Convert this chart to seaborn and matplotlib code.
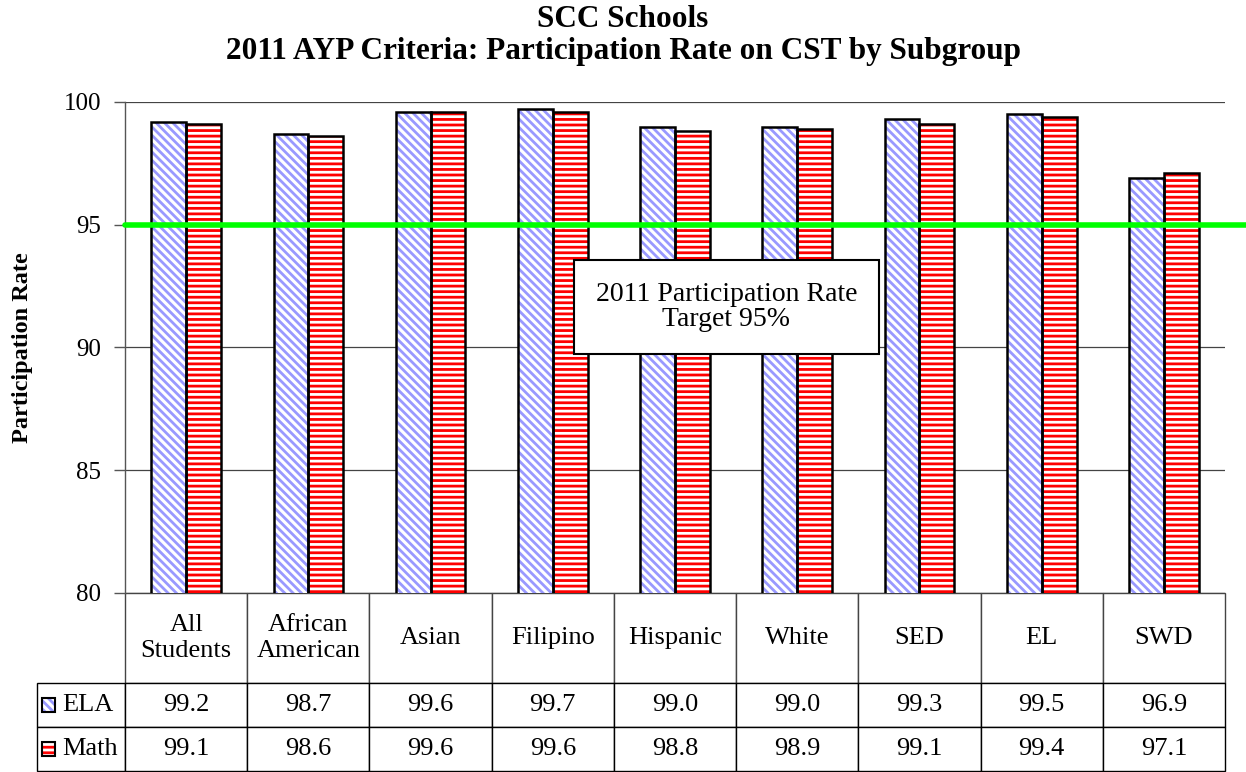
import matplotlib
matplotlib.use("Agg")
import matplotlib.pyplot as plt
import seaborn as sns
import pandas as pd
from matplotlib.patches import Rectangle

# ── Data ──────────────────────────────────────────────────────────────────────
subgroups   = ["All Students", "African American", "Asian", "Filipino", "Hispanic",
               "White", "SED", "EL", "SWD"]
col_labels  = ["All\nStudents", "African\nAmerican", "Asian", "Filipino", "Hispanic",
               "White", "SED", "EL", "SWD"]
tests       = ["ELA", "Math"]
ela_rate    = [99.2, 98.7, 99.6, 99.7, 99.0, 99.0, 99.3, 99.5, 96.9]
math_rate   = [99.1, 98.6, 99.6, 99.6, 98.8, 98.9, 99.1, 99.4, 97.1]
target      = 95
y_ticks     = [80, 85, 90, 95, 100]

# ── Style ─────────────────────────────────────────────────────────────────────
sns.set_style("white")
plt.rcParams["font.family"] = ["Liberation Serif", "DejaVu Serif"]
plt.rcParams["hatch.linewidth"] = 2.0
for k in ["text.color", "axes.labelcolor", "xtick.color", "ytick.color"]:
    plt.rcParams[k] = "black"

HATCH = {"ELA": ("\\\\\\\\", "#9999FF"), "Math": ("---", "#FF0000")}

df = pd.DataFrame({
    "Subgroup": subgroups * 2,
    "Test":     ["ELA"] * len(subgroups) + ["Math"] * len(subgroups),
    "Rate":     ela_rate + math_rate,
})

W, H = 1246, 772
AX_L, AX_R, AX_T, AX_B = 125, 1225, 102, 593
AW, AH = AX_R - AX_L, AX_B - AX_T

fig = plt.figure(figsize=(W / 100, H / 100), dpi=100)
ax = fig.add_axes([AX_L / W, 1 - AX_B / H, AW / W, AH / H])

sns.barplot(data=df, x="Subgroup", y="Rate", hue="Test", order=subgroups,
            hue_order=tests, width=0.57, ax=ax, legend=False, errorbar=None,
            palette=["white", "white"], saturation=1)

# hatch fill, then a black outline on top (hatch colour follows edgecolor)
n = len(subgroups)
for i, p in enumerate(list(ax.patches)):
    hatch, col = HATCH[tests[i // n]]
    p.set_facecolor("white")
    p.set_edgecolor(col)
    p.set_hatch(hatch)
    p.set_linewidth(0)
    ax.add_patch(Rectangle((p.get_x(), p.get_y()), p.get_width(), p.get_height(),
                           fill=False, edgecolor="black", linewidth=1.8, zorder=3))

ax.set_xlim(-0.5, n - 0.5)
ax.set_ylim(80, 100)
ax.set_yticks(y_ticks)
ax.tick_params(axis="y", labelsize=18, length=8, width=1, color="#555555",
               direction="out", left=True, pad=9)
ax.set_xticks([])
ax.set_xlabel("")
ax.set_ylabel("Participation Rate", fontsize=17.5, fontweight="bold", labelpad=22)
ax.yaxis.grid(True, color="#444444", linewidth=0.9)
ax.set_axisbelow(True)
for s in ["top", "right", "bottom"]:
    ax.spines[s].set_visible(False)
ax.spines["left"].set_color("#555555")
ax.spines["left"].set_linewidth(1)

# target line
ax.axhline(target, xmin=0, xmax=1.02, color="#00FF00", linewidth=4, clip_on=False, zorder=4)

ax.text(4.42, 91.65, "2011 Participation Rate\nTarget 95%", ha="center", va="center",
        fontsize=20, zorder=5, linespacing=1.05,
        bbox=dict(boxstyle="square,pad=0.78", facecolor="white", edgecolor="black", linewidth=1.5))

fig.suptitle("SCC Schools\n2011 AYP Criteria: Participation Rate on CST by Subgroup",
             fontsize=22.5, fontweight="bold", y=0.994, linespacing=1.17)

# ── Data table below the plot ─────────────────────────────────────────────────
HDR_H, ROW_H, LBL_W = 90, 44, 92
TBL_H = HDR_H + 2 * ROW_H
cell_text = [[f"{v:.1f}" for v in ela_rate], [f"{v:.1f}" for v in math_rate]]
# bbox covers the data columns only; the row-label column hangs off to the left
tbl = ax.table(cellText=cell_text, rowLabels=tests, colLabels=col_labels,
               cellLoc="center", rowLoc="left",
               bbox=[0, -TBL_H / AH, 1, TBL_H / AH])
tbl.auto_set_font_size(False)
tbl.set_fontsize(19)
for (r, c), cell in tbl.get_celld().items():
    cell.set_linewidth(1)
    cell.set_edgecolor("black" if r > 0 else "#444444")
    if c == -1:
        cell.set_width(LBL_W / AW)
        cell.PAD = 0.29
    else:
        cell.set_width(1 / n)
    cell.set_height((HDR_H if r == 0 else ROW_H) / AH)
    if r == 0:
        cell.get_text().set_linespacing(1.22)

# legend keys in the row-label cells
for k, t in enumerate(tests):
    hatch, col = HATCH[t]
    yc = (-HDR_H - ROW_H / 2 - ROW_H * k) / AH
    for kw in (dict(facecolor="white", edgecolor=col, hatch=hatch, linewidth=0, zorder=6),
               dict(fill=False, edgecolor="black", linewidth=1.5, zorder=7)):
        ax.add_patch(Rectangle((-83 / AW, yc - 7 / AH), 13 / AW, 14 / AH,
                               transform=ax.transAxes, clip_on=False, **kw))

fig.savefig("out.png", dpi=100)
